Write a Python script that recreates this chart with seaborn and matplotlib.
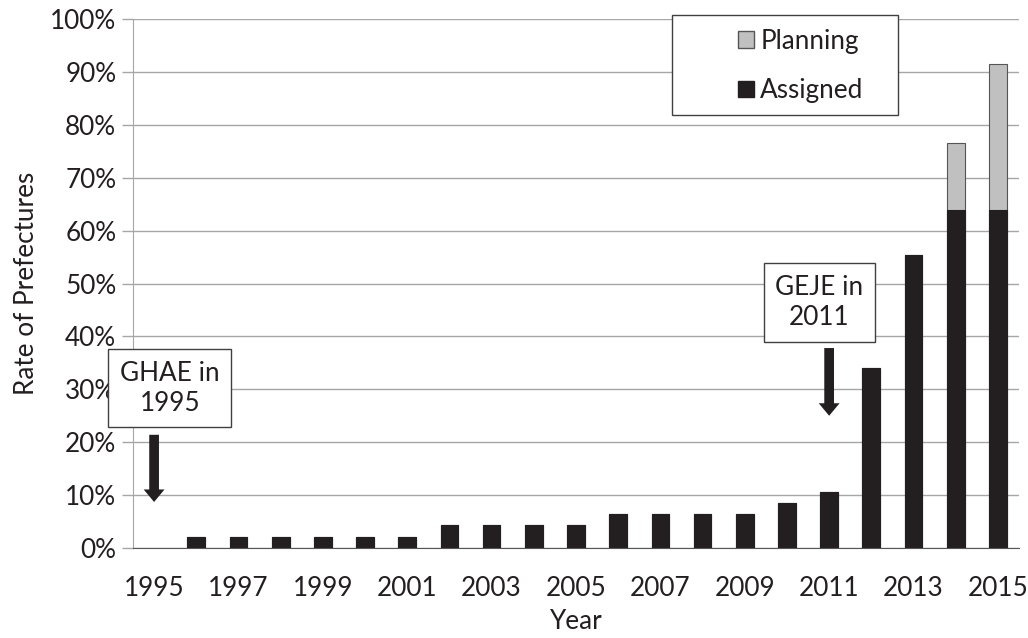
import seaborn as sns
import matplotlib.pyplot as plt
import matplotlib.patches as mpatches
import pandas as pd
import numpy as np

years = [str(y) for y in range(1995, 2016)]
assigned = [0.0, 2.13, 2.13, 2.13, 2.13, 2.13, 2.13, 4.26, 4.26, 4.26, 4.26,
            6.38, 6.38, 6.38, 6.38, 8.51, 10.64, 34.04, 55.32, 63.83, 63.83]
planning = [0.0, 0.0, 0.0, 0.0, 0.0, 0.0, 0.0, 0.0, 0.0, 0.0, 0.0,
            0.0, 0.0, 0.0, 0.0, 0.0, 0.0, 0.0, 0.0, 12.77, 27.66]
tick_years = [str(y) for y in range(1995, 2016, 2)]

dark = '#231f20'
light = '#c0c0c0'
grid = '#a6a6a6'

def run():
    sns.set_style('white')
    plt.rcParams['font.family'] = ['Lato', 'DejaVu Sans']
    fs = 18.8

    df = pd.DataFrame({'year': years, 'assigned': assigned, 'planning': planning})
    df['total'] = df['assigned'] + df['planning']

    fig = plt.figure(figsize=(10.28, 6.38), dpi=100)
    ax = fig.add_axes([133 / 1028, 1 - 548 / 638, (1019 - 133) / 1028, (548 - 19) / 638])

    # stacked: total in grey first, then assigned on top
    sns.barplot(data=df, x='year', y='total', order=years, color=light, width=0.42,
                saturation=1, edgecolor='#555555', linewidth=0.8, ax=ax)
    sns.barplot(data=df, x='year', y='assigned', order=years, color=dark, width=0.42,
                saturation=1, edgecolor=dark, linewidth=0.8, ax=ax)
    for p in ax.patches:
        if p.get_height() == 0:
            p.set_linewidth(0)

    ax.set_xlim(-0.5, len(years) - 0.5)
    ax.set_ylim(0, 100)
    ax.set_yticks(range(0, 101, 10))
    ax.set_yticklabels([f'{v}%' for v in range(0, 101, 10)], fontsize=fs, color=dark)
    ax.yaxis.grid(True, color=grid, linewidth=1)
    ax.set_axisbelow(True)

    pos = [years.index(t) for t in tick_years]
    ax.set_xticks(pos)
    ax.set_xticklabels(tick_years, fontsize=fs, color=dark)
    ax.set_xticks(np.arange(-0.5, len(years), 1), minor=True)
    ax.tick_params(axis='x', which='major', length=0, pad=20)
    ax.tick_params(axis='x', which='minor', length=8, color='#555555', width=1)
    ax.tick_params(axis='y', which='major', left=True, length=8, color=grid, width=1, pad=4)

    for s in ['top', 'right']:
        ax.spines[s].set_visible(False)
    ax.spines['left'].set_color(grid)
    ax.spines['bottom'].set_color('#555555')

    ax.set_xlabel('Year', fontsize=fs, color=dark, labelpad=6)
    ax.set_ylabel('Rate of Prefectures', fontsize=fs, color=dark, labelpad=8)

    # event annotations
    box = dict(boxstyle='square,pad=0.45', facecolor='white', edgecolor='#404040', linewidth=1)
    arrow = dict(facecolor=dark, edgecolor='none', width=7, headwidth=15, headlength=9, shrink=0)
    ax.text(0.37, 30.2, 'GHAE in\n1995', ha='center', va='center', fontsize=fs,
            color=dark, bbox=box, linespacing=1.25, clip_on=False, zorder=5)
    ax.annotate('', xy=(0, 8.7), xytext=(0, 21.4), arrowprops=arrow)
    ax.text(15.77, 46.4, 'GEJE in\n2011', ha='center', va='center', fontsize=fs,
            color=dark, bbox=box, linespacing=1.25, zorder=5)
    ax.annotate('', xy=(16, 25.0), xytext=(16, 37.8), arrowprops=arrow)

    # legend
    fig.patches.append(mpatches.Rectangle((672 / 1028, 1 - 115 / 638), 226 / 1028, 100 / 638,
                                          transform=fig.transFigure, facecolor='white',
                                          edgecolor='#404040', linewidth=1, zorder=3))
    handles = [mpatches.Patch(facecolor=light, edgecolor='#555555', label='Planning'),
               mpatches.Patch(facecolor=dark, edgecolor=dark, label='Assigned')]
    leg = fig.legend(handles=handles, loc='center', bbox_to_anchor=(801 / 1028, 1 - 66 / 638),
                     frameon=False, fontsize=fs, handlelength=0.6, handleheight=0.6,
                     handletextpad=0.25, labelspacing=0.95)
    for t in leg.get_texts():
        t.set_color(dark)
    leg.set_zorder(4)

    fig.savefig('out.png', dpi=100)


if __name__ == '__main__':
    run()
